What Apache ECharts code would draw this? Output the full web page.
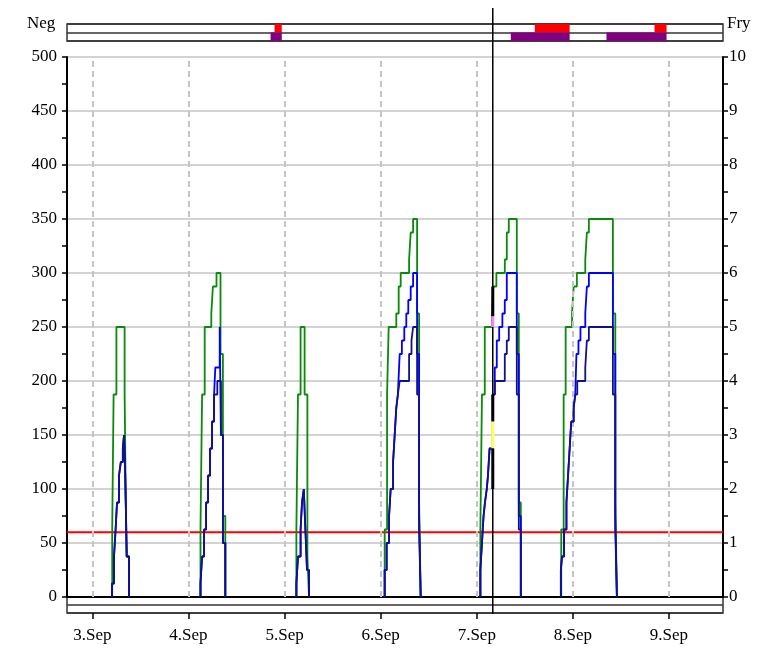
<!DOCTYPE html>
<html><head><meta charset="utf-8">
<script src="https://cdn.jsdelivr.net/npm/echarts@6/dist/echarts.min.js"></script>
<style>html,body{margin:0;padding:0;background:#fff}#c{width:769px;height:649px}</style>
</head><body><div id="c"></div>
<script>
// x values are hours after 3.Sep 00:00; y values in right-axis units (0-10)
const dayHours = [0, 24, 48, 72, 96, 120, 144];
const dayLabels = ['3.Sep', '4.Sep', '5.Sep', '6.Sep', '7.Sep', '8.Sep', '9.Sep'];
const xMinHour = -6.34, xMaxHour = 157.5;
const leftTicks = [0, 50, 100, 150, 200, 250, 300, 350, 400, 450, 500];
const rightTicks = [0, 1, 2, 3, 4, 5, 6, 7, 8, 9, 10];
const thresholdValue = 1.2;
const cursorHour = 100.0;

const greenPeak1 = [[4.95,0],[4.95,1.25],[5.3,3.75],[6.0,5.0],[8.05,3.75],[8.5,0.75],[9.15,0]];
const greenPeak2 = [[27.0,0],[27.0,1.25],[27.4,3.75],[28.05,5.0],[29.7,5.25],[30.1,5.75],[31.0,6.0],[32.0,4.5],[32.6,1.5],[33.2,0]];
const greenPeak3 = [[50.95,0],[50.95,1.25],[51.35,3.75],[52.0,5.0],[53.0,3.75],[53.7,0.75],[54.1,0]];
const greenPeak4 = [[73.0,0],[73.0,1.25],[73.6,3.75],[74.0,5.0],[75.9,5.25],[76.5,5.75],[77.0,6.0],[79.1,6.25],[79.5,6.75],[80.1,7.0],[81.1,5.25],[81.6,1.75],[82.0,0]];
const greenPeak5 = [[96.9,0],[96.9,1.25],[97.3,3.75],[98.0,5.0],[99.8,5.25],[100.1,5.75],[100.9,6.0],[103.0,6.25],[103.5,6.75],[104.0,7.0],[106.0,5.25],[106.5,1.75],[107.0,0]];
const greenPeak6 = [[117.1,0],[117.1,1.25],[117.7,3.75],[118.2,5.0],[119.8,5.25],[120.2,5.75],[121.0,6.0],[123.1,6.25],[123.5,6.75],[124.0,7.0],[130.0,5.25],[130.6,1.75],[131.0,0]];

const navyPeak1 = [[4.9,0],[4.9,0.25],[5.4,0.75],[5.8,1.25],[6.15,1.75],[6.65,2.25],[7.1,2.5],[7.6,2.75],[7.9,3.0],[8.2,2.25],[8.6,0.75],[9.15,0]];
const navyPeak2 = [[27.0,0],[27.0,0.25],[27.4,0.75],[27.9,1.25],[28.4,1.75],[28.9,2.25],[29.4,2.75],[29.9,3.25],[30.4,3.75],[31.2,4.0],[32.1,3.0],[32.6,1.0],[33.2,0]];
const navyPeak3 = [[50.95,0],[50.95,0.25],[51.35,0.75],[52.0,1.25],[52.35,1.75],[52.8,2.0],[53.2,1.25],[53.6,0.5],[54.1,0]];
const navyPeak4 = [[73.0,0],[73.0,0.5],[73.5,1.0],[74.1,1.5],[74.5,2.0],[75.1,2.5],[75.5,3.0],[75.9,3.5],[76.3,3.75],[76.75,4.0],[79.1,4.5],[79.7,4.75],[80.1,5.0],[81.1,3.75],[81.6,1.25],[82.0,0]];
const navyPeak5 = [[96.9,0],[96.9,0.5],[97.3,1.0],[97.7,1.5],[98.05,1.75],[98.5,2.0],[98.8,2.25],[99.2,2.75],[100.0,3.75],[100.5,4.0],[103.0,4.5],[103.5,4.75],[104.0,5.0],[106.0,3.75],[106.5,1.25],[107.0,0]];
const navyPeak6 = [[117.0,0],[117.0,0.5],[117.3,0.75],[117.8,1.25],[118.4,1.75],[118.8,2.25],[119.2,2.75],[119.6,3.25],[120.2,3.5],[120.6,3.75],[121.1,4.0],[123.1,4.25],[123.5,4.75],[124.0,5.0],[130.0,3.75],[130.6,1.25],[131.0,0]];

const bluePeak1 = navyPeak1;
const bluePeak2 = [[27.0,0],[27.0,0.25],[27.4,0.75],[27.9,1.25],[28.4,1.75],[28.9,2.25],[29.4,2.75],[29.9,3.25],[30.4,3.75],[30.7,4.25],[31.8,5.0],[32.1,3.0],[32.6,1.0],[33.2,0]];
const bluePeak3 = navyPeak3;
const bluePeak4 = [[73.0,0],[73.0,0.5],[73.5,1.0],[74.1,1.5],[74.5,2.0],[75.1,2.5],[75.5,3.0],[75.9,3.5],[76.3,3.75],[76.75,4.5],[77.3,4.75],[77.9,5.0],[78.4,5.25],[78.9,5.5],[79.5,5.75],[80.1,6.0],[81.1,4.5],[81.6,1.5],[82.0,0]];
const bluePeak5 = [[96.9,0],[96.9,0.5],[97.3,1.0],[97.7,1.5],[98.05,1.75],[98.5,2.0],[98.8,2.25],[99.2,2.75],[100.0,3.75],[100.5,4.25],[101.0,4.75],[101.6,5.0],[102.4,5.25],[103.0,5.5],[103.5,6.0],[106.0,4.5],[106.5,1.5],[107.0,0]];
const bluePeak6 = [[117.0,0],[117.0,0.5],[117.3,0.75],[117.8,1.25],[118.4,1.75],[118.8,2.25],[119.2,2.75],[119.6,3.25],[120.2,3.5],[120.6,3.75],[120.9,4.5],[121.4,4.75],[121.9,5.0],[123.1,5.25],[123.5,5.75],[124.0,6.0],[130.0,4.5],[130.6,1.5],[131.0,0]];

// event strip (row 0 = upper row, row 1 = lower row)
const upperStarts = [45.5, 110.5, 140.4];
const upperEnds   = [47.3, 119.2, 143.4];
const lowerStarts = [44.5, 104.5, 128.4];
const lowerEnds   = [47.3, 119.2, 143.4];

// cursor highlight segments (right-axis units)
const cursorLows  = [5.2, 5.0, 3.25, 2.75, 2.0];
const cursorHighs = [5.75, 5.2, 3.75, 3.25, 2.75];

const cursorColors = ['#000000', '#ff80ff', '#000000', '#ffff60', '#000000'];
const rowColors = ['#ff0000', '#800080'];

function joinPeaks(peaks) {
  const out = [];
  peaks.forEach((p, i) => { if (i) out.push('-'); p.forEach(q => out.push(q)); });
  return out;
}
const greenData = joinPeaks([greenPeak1, greenPeak2, greenPeak3, greenPeak4, greenPeak5, greenPeak6]);
const blueData = joinPeaks([bluePeak1, bluePeak2, bluePeak3, bluePeak4, bluePeak5, bluePeak6]);
const navyData = joinPeaks([navyPeak1, navyPeak2, navyPeak3, navyPeak4, navyPeak5, navyPeak6]);
const eventData = [];
upperStarts.forEach((s, i) => eventData.push([s, upperEnds[i], 0]));
lowerStarts.forEach((s, i) => eventData.push([s, lowerEnds[i], 1]));
const cursorData = cursorLows.map((lo, i) => [cursorHour, lo, cursorHighs[i], i]);

const FONT = 'Liberation Serif';
const FS = 17;
const L = 67, R = 46;
const chart = echarts.init(document.getElementById('c'), null, {renderer: 'canvas'});
const lineBase = {type: 'line', step: 'end', showSymbol: false, symbol: 'none', connectNulls: false, xAxisIndex: 0, yAxisIndex: 1, animation: false, silent: true};
const stripY = (g) => ({type: 'value', gridIndex: g, min: 0, max: 2, interval: 1, show: true,
  axisLine: {show: false, onZero: false}, axisTick: {show: false}, axisLabel: {show: false},
  splitLine: {show: true, lineStyle: {color: '#333', width: 1.5}}});

const textEls = [
  {type: 'text', left: 27, top: 15, style: {text: 'Neg', font: FS + 'px "Liberation Serif"', fill: '#000'}},
  {type: 'text', left: 727, top: 15, style: {text: 'Fry', font: FS + 'px "Liberation Serif"', fill: '#000'}}
];

chart.setOption({
  animation: false,
  backgroundColor: '#fff',
  textStyle: {fontFamily: FONT},
  grid: [
    {left: L, right: R, top: 24, height: 17, show: true, borderColor: '#333', borderWidth: 1.5, backgroundColor: '#fff'},
    {left: L, right: R, top: 57, height: 540},
    {left: L, right: R, top: 597, height: 16, show: true, borderColor: '#333', borderWidth: 1.5}
  ],
  xAxis: [
    {type: 'value', gridIndex: 1, min: xMinHour, max: xMaxHour, axisLabel: {show: false}, axisTick: {show: false},
     axisLine: {show: true, onZero: false, lineStyle: {color: '#000', width: 2}}, splitLine: {show: false}},
    {type: 'value', gridIndex: 0, min: xMinHour, max: xMaxHour, show: false},
    {type: 'value', gridIndex: 2, min: xMinHour, max: xMaxHour, position: 'bottom',
     axisLine: {show: false, onZero: false}, splitLine: {show: false},
     axisTick: {show: true, customValues: dayHours, length: 6, lineStyle: {color: '#000', width: 1.5}},
     axisLabel: {show: true, customValues: dayHours, margin: 14, fontFamily: FONT, fontSize: FS, color: '#000',
       formatter: v => dayLabels[dayHours.indexOf(v)] || ''}}
  ],
  yAxis: [
    {type: 'value', gridIndex: 1, min: 0, max: 500, interval: 50, position: 'left',
     axisLine: {show: true, onZero: false, lineStyle: {color: '#000', width: 2}},
     axisTick: {show: true, length: 5, lineStyle: {color: '#000', width: 1.5}},
     minorTick: {show: true, splitNumber: 2, length: 5, lineStyle: {color: '#000', width: 1.5}},
     axisLabel: {margin: 10, fontFamily: FONT, fontSize: FS, color: '#000', formatter: v => leftTicks.includes(v) ? String(v) : ''},
     splitLine: {show: true, lineStyle: {color: '#c4c4c4', width: 1.5}}},
    {type: 'value', gridIndex: 1, min: 0, max: 10, interval: 1, position: 'right',
     axisLine: {show: true, onZero: false, lineStyle: {color: '#000', width: 2}},
     axisTick: {show: true, length: 5, lineStyle: {color: '#000', width: 1.5}},
     minorTick: {show: true, splitNumber: 2, length: 5, lineStyle: {color: '#000', width: 1.5}},
     axisLabel: {margin: 6, fontFamily: FONT, fontSize: FS, color: '#000', formatter: v => rightTicks.includes(v) ? String(v) : ''},
     splitLine: {show: false}},
    stripY(0),
    stripY(2)
  ],
  series: [
    {type: 'line', xAxisIndex: 0, yAxisIndex: 1, data: [], silent: true,
     markLine: {silent: true, symbol: 'none', label: {show: false}, animation: false,
       lineStyle: {color: '#c4c4c4', type: [6, 4], width: 2},
       data: dayHours.map(h => ({xAxis: h}))}},
    {...lineBase, name: 'threshold', data: [[xMinHour, thresholdValue], [xMaxHour, thresholdValue]], step: false, lineStyle: {color: '#ff0000', width: 2}, z: 3},
    {...lineBase, name: 'green', data: greenData, lineStyle: {color: '#0a8a0a', width: 1.8}, z: 4},
    {...lineBase, name: 'blue', data: blueData, lineStyle: {color: '#0000ff', width: 1.8}, z: 5},
    {...lineBase, name: 'navy', data: navyData, lineStyle: {color: '#101090', width: 1.8}, z: 6},
    {type: 'custom', xAxisIndex: 0, yAxisIndex: 1, data: cursorData, silent: true, z: 8,
     encode: {x: 0, y: [1, 2]},
     renderItem: (params, api) => {
       const top = api.coord([api.value(0), api.value(2)]);
       const bot = api.coord([api.value(0), api.value(1)]);
       return {type: 'rect', shape: {x: top[0] - 1.5, y: top[1], width: 3, height: bot[1] - top[1]},
               style: {fill: cursorColors[api.value(3)]}};
     }},
    {type: 'custom', xAxisIndex: 1, yAxisIndex: 2, data: eventData, silent: true, z: 2,
     encode: {x: [0, 1], y: 2},
     renderItem: (params, api) => {
       const row = api.value(2);
       const a = api.coord([api.value(0), 2 - row]);
       const b = api.coord([api.value(1), 1 - row]);
       return {type: 'rect', shape: {x: a[0], y: a[1], width: b[0] - a[0], height: b[1] - a[1]},
               style: {fill: rowColors[row]}};
     }}
  ],
  graphic: textEls
});

const cx = chart.convertToPixel({xAxisIndex: 0}, cursorHour);
chart.setOption({graphic: textEls.concat([
  {type: 'line', shape: {x1: cx, y1: 8, x2: cx, y2: 614}, style: {stroke: '#000', lineWidth: 1.5}, z: 7}
])});
</script>
</body></html>
